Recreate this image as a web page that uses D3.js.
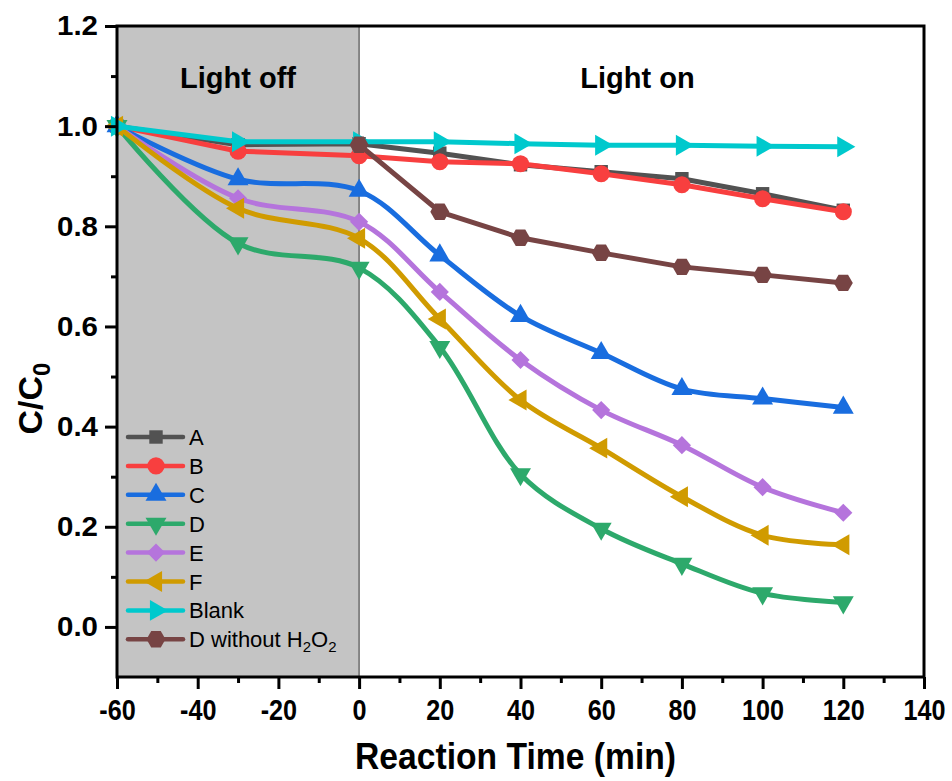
<!DOCTYPE html>
<html>
<head>
<meta charset="utf-8">
<script src="https://cdn.jsdelivr.net/npm/d3@7"></script>
<style>
  body { margin: 0; background: #fff; }
  text { font-family: "Liberation Sans", Arial, sans-serif; }
</style>
</head>
<body>
<div id="chart-area"></div>
<script>
// time points (min)
const timesAll = [-60, -30, 0, 20, 40, 60, 80, 100, 120]
const timesOn = [0, 20, 40, 60, 80, 100, 120]

// C/C0 values
const seriesA = [1.0, 0.963, 0.965, 0.946, 0.923, 0.909, 0.895, 0.865, 0.832]
const seriesB = [1.0, 0.950, 0.941, 0.929, 0.925, 0.905, 0.883, 0.855, 0.829]
const seriesC = [1.0, 0.894, 0.871, 0.742, 0.621, 0.547, 0.475, 0.456, 0.438]
const seriesD = [1.0, 0.766, 0.717, 0.559, 0.305, 0.196, 0.126, 0.067, 0.049]
const seriesE = [1.0, 0.856, 0.809, 0.669, 0.533, 0.433, 0.363, 0.279, 0.228]
const seriesF = [1.0, 0.836, 0.776, 0.615, 0.453, 0.357, 0.260, 0.183, 0.164]
const seriesBlank = [1.0, 0.969, 0.969, 0.969, 0.965, 0.962, 0.962, 0.960, 0.959]
const seriesDnoH2O2 = [0.963, 0.829, 0.777, 0.747, 0.719, 0.703, 0.687]

const xTicks = [-60, -40, -20, 0, 20, 40, 60, 80, 100, 120, 140]
const yTicks = [0.0, 0.2, 0.4, 0.6, 0.8, 1.0, 1.2]

const series = [
  { name: "A", times: timesAll, values: seriesA, color: "#525252", marker: "square", smooth: false },
  { name: "B", times: timesAll, values: seriesB, color: "#f83f3f", marker: "circle", smooth: false },
  { name: "C", times: timesAll, values: seriesC, color: "#196ddf", marker: "up", smooth: true },
  { name: "D", times: timesAll, values: seriesD, color: "#2da96b", marker: "down", smooth: true },
  { name: "E", times: timesAll, values: seriesE, color: "#b574dc", marker: "diamond", smooth: true },
  { name: "F", times: timesAll, values: seriesF, color: "#d09b00", marker: "left", smooth: true },
  { name: "Blank", times: timesAll, values: seriesBlank, color: "#00c9cd", marker: "right", smooth: false },
  { name: "D without H2O2", times: timesOn, values: seriesDnoH2O2, color: "#774444", marker: "hex", smooth: false }
]

const MARGIN = { LEFT: 117, RIGHT: 28, TOP: 26, BOTTOM: 104 }
const WIDTH = 952 - MARGIN.LEFT - MARGIN.RIGHT
const HEIGHT = 781 - MARGIN.TOP - MARGIN.BOTTOM

const svg = d3.select("#chart-area").append("svg")
  .attr("width", 952)
  .attr("height", 781)

const g = svg.append("g")
  .attr("transform", `translate(${MARGIN.LEFT}, ${MARGIN.TOP})`)

const x = d3.scaleLinear().domain([-60, 140]).range([0, WIDTH])
const y = d3.scaleLinear().domain([-0.1, 1.2]).range([HEIGHT, 0])

// shaded "light off" region
g.append("rect")
  .attr("x", x(-60))
  .attr("y", 0)
  .attr("width", x(0) - x(-60))
  .attr("height", HEIGHT)
  .attr("fill", "#c4c4c4")

g.append("line")
  .attr("x1", x(0)).attr("x2", x(0))
  .attr("y1", 0).attr("y2", HEIGHT)
  .attr("stroke", "#333")
  .attr("stroke-width", 1)

// region labels
g.append("text")
  .attr("x", (x(-60) + x(0)) / 2)
  .attr("y", 62)
  .attr("text-anchor", "middle")
  .attr("font-size", "29px")
  .attr("font-weight", "bold")
  .text("Light off")

g.append("text")
  .attr("x", x(69))
  .attr("y", 62)
  .attr("text-anchor", "middle")
  .attr("font-size", "29px")
  .attr("font-weight", "bold")
  .text("Light on")

// marker shapes
function markerPath(type) {
  const tri = d3.symbol().type(d3.symbolTriangle).size(190)()
  switch (type) {
    case "square": return { d: d3.symbol().type(d3.symbolSquare).size(180)(), rot: 0 }
    case "circle": return { d: d3.symbol().type(d3.symbolCircle).size(230)(), rot: 0 }
    case "up": return { d: tri, rot: 0 }
    case "down": return { d: tri, rot: 180 }
    case "left": return { d: tri, rot: -90 }
    case "right": return { d: tri, rot: 90 }
    case "diamond": return { d: d3.symbol().type(d3.symbolSquare).size(165)(), rot: 45 }
    case "hex": {
      const r = 9.5
      const pts = d3.range(6).map(i => {
        const a = Math.PI / 3 * i
        return [r * Math.cos(a), r * Math.sin(a)]
      })
      return { d: "M" + pts.map(p => p.join(",")).join("L") + "Z", rot: 0 }
    }
  }
}

// lines and markers
series.forEach(s => {
  const pts = s.times.map((t, i) => [t, s.values[i]])
  const line = d3.line()
    .x(d => x(d[0]))
    .y(d => y(d[1]))
    .curve(s.smooth ? d3.curveCatmullRom.alpha(0.5) : d3.curveLinear)

  g.append("path")
    .datum(pts)
    .attr("fill", "none")
    .attr("stroke", s.color)
    .attr("stroke-width", 5)
    .attr("stroke-linejoin", "round")
    .attr("d", line)

  const m = markerPath(s.marker)
  g.selectAll(null)
    .data(pts)
    .enter().append("path")
    .attr("d", m.d)
    .attr("fill", s.color)
    .attr("transform", d => `translate(${x(d[0])}, ${y(d[1])}) rotate(${m.rot})`)
})

// frame
g.append("rect")
  .attr("x", 0).attr("y", 0)
  .attr("width", WIDTH).attr("height", HEIGHT)
  .attr("fill", "none")
  .attr("stroke", "#000")
  .attr("stroke-width", 3)

// axes
const xAxisMinor = d3.axisBottom(x).tickValues(d3.range(-50, 140, 20)).tickSize(6).tickFormat("")
g.append("g")
  .attr("transform", `translate(0, ${HEIGHT})`)
  .call(xAxisMinor)

const xAxis = d3.axisBottom(x).tickValues(xTicks).tickSize(12).tickPadding(10).tickFormat(d => String(d))
const xAxisGroup = g.append("g")
  .attr("transform", `translate(0, ${HEIGHT})`)
  .call(xAxis)
xAxisGroup.selectAll("text")
  .attr("font-size", "30px")
  .attr("font-weight", "bold")
  .attr("fill", "#000")
  .attr("transform", "scale(0.84, 1)")

const yAxisMinor = d3.axisLeft(y).tickValues([0.1, 0.3, 0.5, 0.7, 0.9, 1.1]).tickSize(6).tickFormat("")
g.append("g").call(yAxisMinor)

const yAxis = d3.axisLeft(y).tickValues(yTicks).tickSize(12).tickPadding(7).tickFormat(d3.format(".1f"))
const yAxisGroup = g.append("g").call(yAxis)
yAxisGroup.selectAll("text")
  .attr("font-size", "28px")
  .attr("font-weight", "bold")
  .attr("fill", "#000")
  .attr("textLength", 41)
  .attr("lengthAdjust", "spacingAndGlyphs")

g.selectAll(".domain").remove()
g.selectAll(".tick line").attr("stroke", "#000").attr("stroke-width", 3)

// axis labels
g.append("text")
  .attr("x", WIDTH / 2 - 5)
  .attr("y", HEIGHT + 92)
  .attr("text-anchor", "middle")
  .attr("font-size", "36px")
  .attr("font-weight", "bold")
  .attr("textLength", 321)
  .attr("lengthAdjust", "spacingAndGlyphs")
  .text("Reaction Time (min)")

const yLabel = g.append("text")
  .attr("transform", `translate(${-MARGIN.LEFT + 42}, ${y(0.5) + 22}) rotate(-90)`)
  .attr("text-anchor", "middle")
  .attr("font-size", "34px")
  .attr("font-weight", "bold")
yLabel.append("tspan").text("C/C")
yLabel.append("tspan").attr("font-size", "24px").attr("dy", 8).text("0")

// legend
const legend = g.append("g")
  .attr("transform", `translate(${128 - MARGIN.LEFT}, ${437 - MARGIN.TOP})`)

series.forEach((s, i) => {
  const row = legend.append("g").attr("transform", `translate(0, ${i * 28.9})`)
  row.append("line")
    .attr("x1", 0).attr("x2", 55)
    .attr("stroke", s.color)
    .attr("stroke-width", 4.5)
    .attr("stroke-linecap", "round")
  const m = markerPath(s.marker)
  row.append("path")
    .attr("d", m.d)
    .attr("fill", s.color)
    .attr("transform", `translate(28, 0) rotate(${m.rot})`)
  const label = row.append("text")
    .attr("x", 61)
    .attr("y", 8)
    .attr("font-size", "22px")
  if (s.name === "D without H2O2") {
    label.append("tspan").text("D without H")
    label.append("tspan").attr("font-size", "15px").attr("dy", 5).text("2")
    label.append("tspan").attr("dy", -5).text("O")
    label.append("tspan").attr("font-size", "15px").attr("dy", 5).text("2")
  } else {
    label.text(s.name)
  }
})
</script>
</body>
</html>
